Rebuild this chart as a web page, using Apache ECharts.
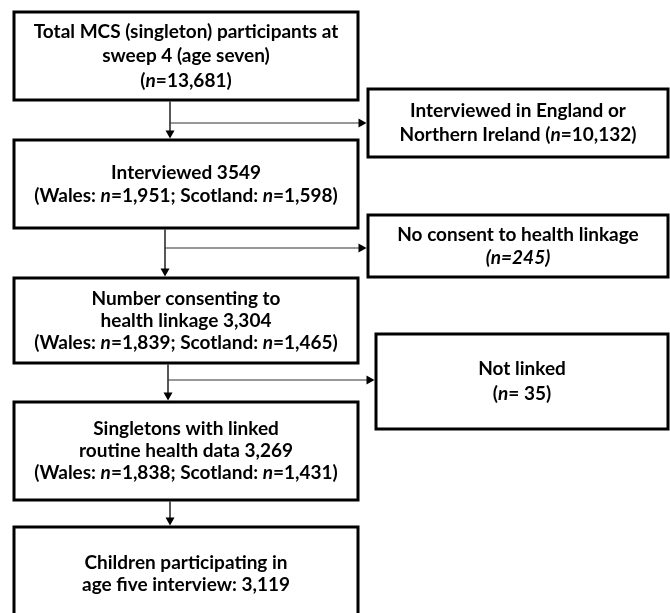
<!DOCTYPE html>
<html><head><meta charset="utf-8">
<script src="https://cdn.jsdelivr.net/npm/echarts@6/dist/echarts.min.js"></script>
<style>html,body{margin:0;padding:0;background:#fff}#c{width:670px;height:613px}</style>
</head><body><div id="c"></div>
<script>
// ---------- data (text of each flowchart box; _..._ marks italic) ----------
const mainSteps = [
  ['Total MCS (singleton) participants at', 'sweep 4 (age seven)', '(_n_=13,681)'],
  ['Interviewed 3549', '(Wales: _n_=1,951; Scotland: _n_=1,598)'],
  ['Number consenting to', 'health linkage 3,304', '(Wales: _n_=1,839; Scotland: _n_=1,465)'],
  ['Singletons with linked', 'routine health data 3,269', '(Wales: _n_=1,838; Scotland: _n_=1,431)'],
  ['Children participating in', 'age five interview: 3,119']
];
const exclusions = [
  ['Interviewed in England or', 'Northern Ireland (_n_=10,132)'],
  ['No consent to health linkage', '_(n=245)_'],
  ['Not linked', '(_n_= 35)']
];

// ---------- layout (axis units) ----------
const mainLayout = [ // [x0, y0, x1, y1, lineHeight]
  [14, 12, 358, 100, 24.5],
  [14, 140, 358, 228, 23],
  [14, 278, 358, 363, 22],
  [14, 402, 358, 500, 22],
  [14, 527, 358, 621, 22]
];
const exclLayout = [
  [368, 89, 668, 157, 24],
  [368, 215, 668, 277, 23],
  [376, 334, 668, 429, 25]
];
const flowX = [170, 165, 168, 170];
const branchY = [123, 248, 380];

const FONT = 'Lato';
const FS = 19;

const boxes = mainSteps.map((t, i) => ({ lines: t, L: mainLayout[i] }))
  .concat(exclusions.map((t, i) => ({ lines: t, L: exclLayout[i] })));

function richLine(line) {
  return line.split('_').map((seg, k) => seg ? '{' + (k % 2 ? 'i' : 'b') + '|' + seg + '}' : '').join('');
}

function renderBox(params, api) {
  const b = boxes[params.dataIndex];
  const L = b.L;
  const p0 = api.coord([L[0], L[1]]);
  const p1 = api.coord([L[2], L[3]]);
  const lh = L[4];
  return {
    type: 'group',
    children: [
      { type: 'rect', shape: { x: p0[0], y: p0[1], width: p1[0] - p0[0], height: p1[1] - p0[1] },
        style: { fill: '#fff', stroke: '#000', lineWidth: 3 } },
      { type: 'text',
        style: {
          text: b.lines.map(richLine).join('\n'),
          x: (p0[0] + p1[0]) / 2, y: (p0[1] + p1[1]) / 2,
          align: 'center', verticalAlign: 'middle',
          fill: '#000',
          rich: {
            b: { fontFamily: FONT, fontSize: FS, fontWeight: 'bold', fontStyle: 'normal', lineHeight: lh, fill: '#000' },
            i: { fontFamily: FONT, fontSize: FS, fontWeight: 'bold', fontStyle: 'italic', lineHeight: lh, fill: '#000' }
          }
        } }
    ]
  };
}

// connectors: vertical ones (type 0) and branches (type 1)
const connectors = [];
for (let i = 0; i < flowX.length; i++) connectors.push([0, i]);
for (let i = 0; i < branchY.length; i++) connectors.push([1, i]);

function renderConnector(params, api) {
  const c = connectors[params.dataIndex];
  const i = c[1];
  let a, b;
  const head = 8, half = 4.5;
  if (c[0] === 0) {
    a = api.coord([flowX[i], mainLayout[i][3]]);
    b = api.coord([flowX[i], mainLayout[i + 1][1]]);
    b[1] -= 1.5;
    return { type: 'group', children: [
      { type: 'line', shape: { x1: a[0], y1: a[1] + 1.5, x2: b[0], y2: b[1] - head + 1 }, style: { stroke: '#111', lineWidth: 1.4 } },
      { type: 'polygon', shape: { points: [[b[0] - half, b[1] - head], [b[0] + half, b[1] - head], [b[0], b[1]]] }, style: { fill: '#000' } }
    ] };
  } else {
    a = api.coord([flowX[i], branchY[i]]);
    b = api.coord([exclLayout[i][0], branchY[i]]);
    b[0] -= 1.5;
    return { type: 'group', children: [
      { type: 'line', shape: { x1: a[0], y1: a[1], x2: b[0] - head + 1, y2: b[1] }, style: { stroke: '#333', lineWidth: 1.1 } },
      { type: 'polygon', shape: { points: [[b[0] - head, b[1] - half], [b[0] - head, b[1] + half], [b[0], b[1]]] }, style: { fill: '#000' } }
    ] };
  }
}

const chart = echarts.init(document.getElementById('c'), null, { renderer: 'canvas' });
chart.setOption({
  animation: false,
  backgroundColor: '#fff',
  grid: { left: 0, right: 0, top: 0, bottom: 0 },
  xAxis: { type: 'value', min: 0, max: 670, show: false },
  yAxis: { type: 'value', min: 0, max: 613, inverse: true, show: false },
  series: [
    { type: 'custom', name: 'connectors', renderItem: renderConnector, data: connectors, clip: false, z: 1, silent: true },
    { type: 'custom', name: 'boxes', renderItem: renderBox, data: boxes.map((b, i) => [i, 0]), clip: false, z: 2, silent: true }
  ]
});
</script>
</body></html>
